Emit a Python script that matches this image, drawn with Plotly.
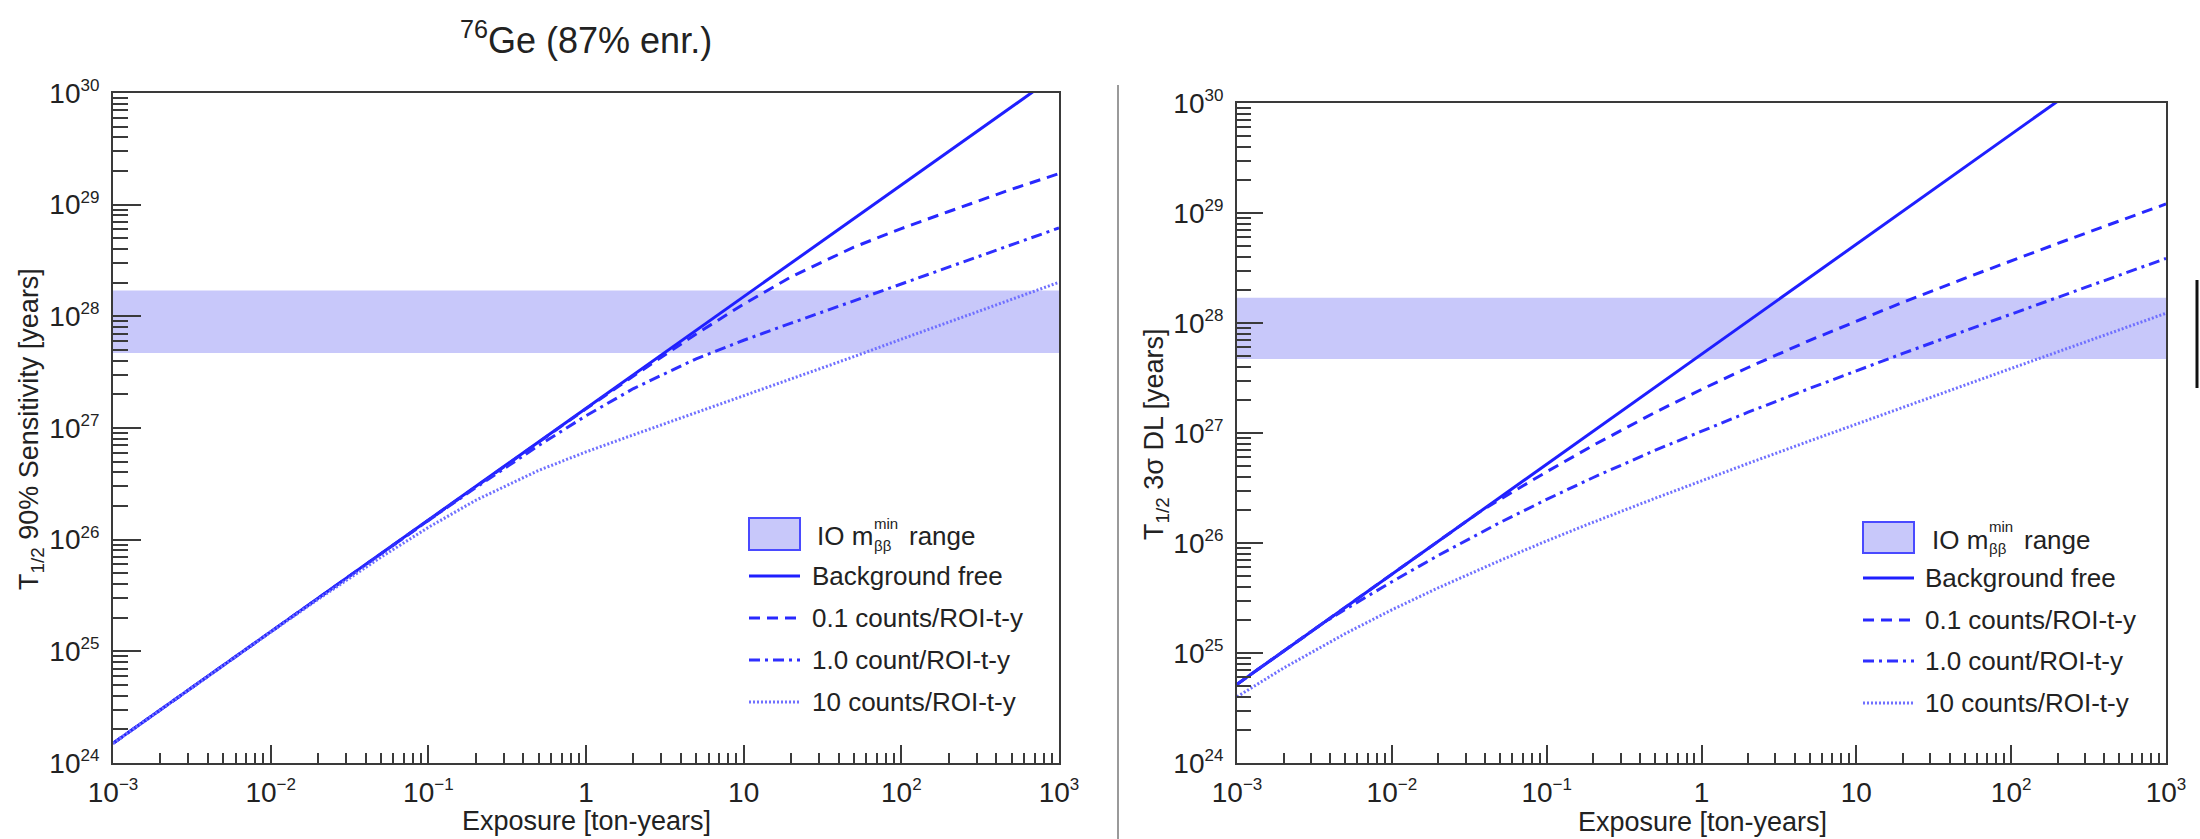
import plotly.graph_objects as go

# ---------------- data ----------------
# exposure grid [ton-years]
exposure = [0.001, 0.002, 0.005, 0.01, 0.02, 0.05, 0.1, 0.2, 0.5, 1,
            2, 5, 10, 20, 50, 100, 200, 500, 1000]

# 90% CL half-life sensitivity [years]
sens_bkg_free = [1.5e24, 3.0e24, 7.5e24, 1.5e25, 3.0e25, 7.5e25, 1.5e26, 3.0e26, 7.5e26, 1.5e27,
                 3.0e27, 7.5e27, 1.5e28, 3.0e28, 7.5e28, 1.5e29, 3.0e29, 7.5e29, 1.5e30]
sens_bkg_0p1 = [1.5e24, 3.0e24, 7.5e24, 1.5e25, 3.0e25, 7.5e25, 1.5e26, 3.0e26, 7.5e26, 1.487e27,
                2.924e27, 6.956e27, 1.287e28, 2.255e28, 4.167e28, 6.106e28, 8.69e28, 1.373e29, 1.90e29]
sens_bkg_1 = [1.5e24, 3.0e24, 7.5e24, 1.5e25, 3.0e25, 7.5e25, 1.487e26, 2.924e26, 6.956e26, 1.287e27,
              2.255e27, 4.167e27, 6.106e27, 8.69e27, 1.373e28, 1.943e28, 2.749e28, 4.356e28, 6.19e28]
sens_bkg_10 = [1.5e24, 3.0e24, 7.5e24, 1.487e25, 2.924e25, 6.956e25, 1.287e26, 2.255e26, 4.167e26, 6.106e26,
               8.69e26, 1.373e27, 1.943e27, 2.749e27, 4.356e27, 6.239e27, 8.88e27, 1.416e28, 2.018e28]

# 3 sigma discovery level half-life [years]
disc_bkg_free = [5.2e24, 1.04e25, 2.6e25, 5.2e25, 1.04e26, 2.6e26, 5.2e26, 1.04e27, 2.6e27, 5.2e27,
                 1.04e28, 2.6e28, 5.2e28, 1.04e29, 2.6e29, 5.2e29, 1.04e30, 2.6e30, 5.2e30]
exposure_disc_0p1 = [0.001, 0.002, 0.005, 0.01, 0.02, 0.036, 0.05, 0.1, 0.2, 0.5, 1,
                     2, 5, 10, 20, 50, 100, 200, 500, 1000]
disc_bkg_0p1 = [5.2e24, 1.04e25, 2.6e25, 5.2e25, 1.04e26, 1.872e26, 2.49e26, 4.44e26, 7.73e26, 1.536e27,
                2.49e27, 3.94e27, 6.95e27, 1.044e28, 1.545e28, 2.546e28, 3.68e28, 5.29e28, 8.47e28, 1.207e29]
exposure_disc_1 = [0.001, 0.002, 0.0036, 0.005, 0.01, 0.02, 0.05, 0.1, 0.2, 0.5, 1,
                   2, 5, 10, 20, 50, 100, 200, 500, 1000]
disc_bkg_1 = [5.2e24, 1.04e25, 1.872e25, 2.49e25, 4.44e25, 7.73e25, 1.536e26, 2.49e26, 3.94e26, 6.95e26,
              1.044e27, 1.545e27, 2.546e27, 3.68e27, 5.29e27, 8.47e27, 1.207e28, 1.716e28, 2.726e28, 3.864e28]
disc_bkg_10 = [4.0e24, 7.3e24, 1.5e25, 2.47e25, 3.92e25, 6.93e25, 1.044e26, 1.545e26, 2.546e26, 3.68e26,
               5.29e26, 8.47e26, 1.207e27, 1.716e27, 2.726e27, 3.864e27, 5.47e27, 8.67e27, 1.227e28]

# inverted-ordering m_bb^min half-life band [years]
band_exposure = [0.001, 1000]
band_low = [4.7e27, 4.7e27]
band_high = [1.7e28, 1.7e28]

legend_labels = ["Background free", "0.1 counts/ROI-t-y", "1.0 count/ROI-t-y", "10 counts/ROI-t-y"]

# axis ticks
x_tickvals = [1e-3, 1e-2, 1e-1, 1, 10, 1e2, 1e3]
x_ticktext = ["10<sup><span style='font-size:17px'>−3</span></sup>",
              "10<sup><span style='font-size:17px'>−2</span></sup>",
              "10<sup><span style='font-size:17px'>−1</span></sup>",
              "1", "10",
              "10<sup><span style='font-size:17px'>2</span></sup>",
              "10<sup><span style='font-size:17px'>3</span></sup>"]
y_tickvals = [1e24, 1e25, 1e26, 1e27, 1e28, 1e29, 1e30]
y_ticktext = ["10<sup><span style='font-size:17px'>%d</span></sup>" % p for p in range(24, 31)]

# ---------------- styles ----------------
W, H = 2200, 839
FONT = "Liberation Sans, Arial, Helvetica, sans-serif"
TXT = "#222222"
AX = "#3a3a3a"
BAND_FILL = "#c8c8fa"
BAND_EDGE = "#4a4aff"
styles = [
    dict(color="#1f1fff", width=3, dash="solid"),
    dict(color="#2828ff", width=3, dash="11px,7px"),
    dict(color="#2f2fff", width=3, dash="11px,5px,3px,5px"),
    dict(color="#7070ff", width=3, dash="2px,2px"),
]


def px(x):
    return x / W


def py(y):
    return 1 - y / H


fig = go.Figure()


def add_panel(xa, ya, series):
    fig.add_trace(go.Scatter(x=band_exposure, y=band_low, mode="lines", line=dict(width=0),
                             xaxis=xa, yaxis=ya, showlegend=False, hoverinfo="skip"))
    fig.add_trace(go.Scatter(x=band_exposure, y=band_high, mode="lines", line=dict(width=0),
                             fill="tonexty", fillcolor=BAND_FILL,
                             xaxis=xa, yaxis=ya, showlegend=False, hoverinfo="skip"))
    for (xs, ys), st, name in zip(series, styles, legend_labels):
        fig.add_trace(go.Scatter(x=xs, y=ys, mode="lines", line=st, name=name,
                                 xaxis=xa, yaxis=ya, showlegend=False))


add_panel("x", "y", [(exposure, sens_bkg_free), (exposure, sens_bkg_0p1),
                     (exposure, sens_bkg_1), (exposure, sens_bkg_10)])
add_panel("x2", "y2", [(exposure, disc_bkg_free), (exposure_disc_0p1, disc_bkg_0p1),
                       (exposure_disc_1, disc_bkg_1), (exposure, disc_bkg_10)])


def axis_style(domain, anchor, rng, major_len, minor_len, vals, texts, standoff):
    return dict(
        domain=domain, anchor=anchor, type="log", range=rng,
        showline=True, linecolor=AX, linewidth=2, mirror=True,
        ticks="inside", ticklen=major_len, tickwidth=1.5, tickcolor=AX,
        tickmode="array", tickvals=vals, ticktext=texts, ticklabelstandoff=standoff,
        minor=dict(ticks="inside", ticklen=minor_len, tickwidth=1.5, tickcolor=AX,
                   dtick="D1", showgrid=False),
        showgrid=False, zeroline=False,
        tickfont=dict(family=FONT, size=28, color=TXT),
    )


fig.update_layout(
    width=W, height=H,
    margin=dict(l=0, r=0, t=0, b=0, autoexpand=False),
    paper_bgcolor="white", plot_bgcolor="white",
    showlegend=False,
    xaxis=axis_style([px(113), px(1059)], "y", [-3, 3], 18, 10, x_tickvals, x_ticktext, 3),
    yaxis=axis_style([py(763), py(93)], "x", [24, 30], 28, 15, y_tickvals, y_ticktext, 6),
    xaxis2=axis_style([px(1237), px(2166)], "y2", [-3, 3], 18, 10, x_tickvals, x_ticktext, 3),
    yaxis2=axis_style([py(763), py(103)], "x2", [24, 30], 26, 14, y_tickvals, y_ticktext, 6),
)

annotations = []
shapes = []


def text(x, y, s, size, xanchor="left", angle=0):
    annotations.append(dict(x=px(x), y=py(y), xref="paper", yref="paper", text=s,
                            showarrow=False, xanchor=xanchor, yanchor="middle",
                            textangle=angle, font=dict(family=FONT, size=size, color=TXT)))


# title and axis titles
text(586, 38, "<sup>76</sup>Ge (87% enr.)", 36, xanchor="center")
text(586, 821, "Exposure [ton-years]", 27, xanchor="center")
text(1702, 822, "Exposure [ton-years]", 27, xanchor="center")
text(31, 429, "T<sub>1/2</sub> 90% Sensitivity [years]", 27, xanchor="center", angle=-90)
text(1156, 434, "T<sub>1/2</sub> 3σ DL [years]", 27, xanchor="center", angle=-90)


def legend(x0, x1, box_top, box_bot, row_ys, text_x, band_x):
    shapes.append(dict(type="rect", xref="paper", yref="paper",
                       x0=px(x0), x1=px(x1), y0=py(box_bot), y1=py(box_top),
                       fillcolor=BAND_FILL, line=dict(color=BAND_EDGE, width=2)))
    for yy, st, lab in zip(row_ys, styles, legend_labels):
        shapes.append(dict(type="line", xref="paper", yref="paper",
                           x0=px(x0), x1=px(x1), y0=py(yy), y1=py(yy), line=st))
        text(text_x, yy, lab, 26)
    yc = (box_top + box_bot) / 2
    text(band_x, yc + 2, "IO m", 26)
    text(band_x + 57, yc - 11, "min", 15)
    text(band_x + 57, yc + 11, "ββ", 15)
    text(band_x + 92, yc + 2, "range", 26)


legend(749, 800, 518, 550, [576, 618, 660, 702], 810, 815)
legend(1863, 1914, 522, 553, [578, 620, 661, 703], 1923, 1930)

# separator between the panels and the cut mark at the right edge
shapes.append(dict(type="line", xref="paper", yref="paper", x0=px(1118), x1=px(1118),
                   y0=py(85), y1=py(839), line=dict(color="#9a9a9a", width=2)))
shapes.append(dict(type="line", xref="paper", yref="paper", x0=px(2197), x1=px(2197),
                   y0=py(280), y1=py(388), line=dict(color="#111111", width=3)))

fig.update_layout(annotations=annotations, shapes=shapes)
fig.write_html("out.html")
